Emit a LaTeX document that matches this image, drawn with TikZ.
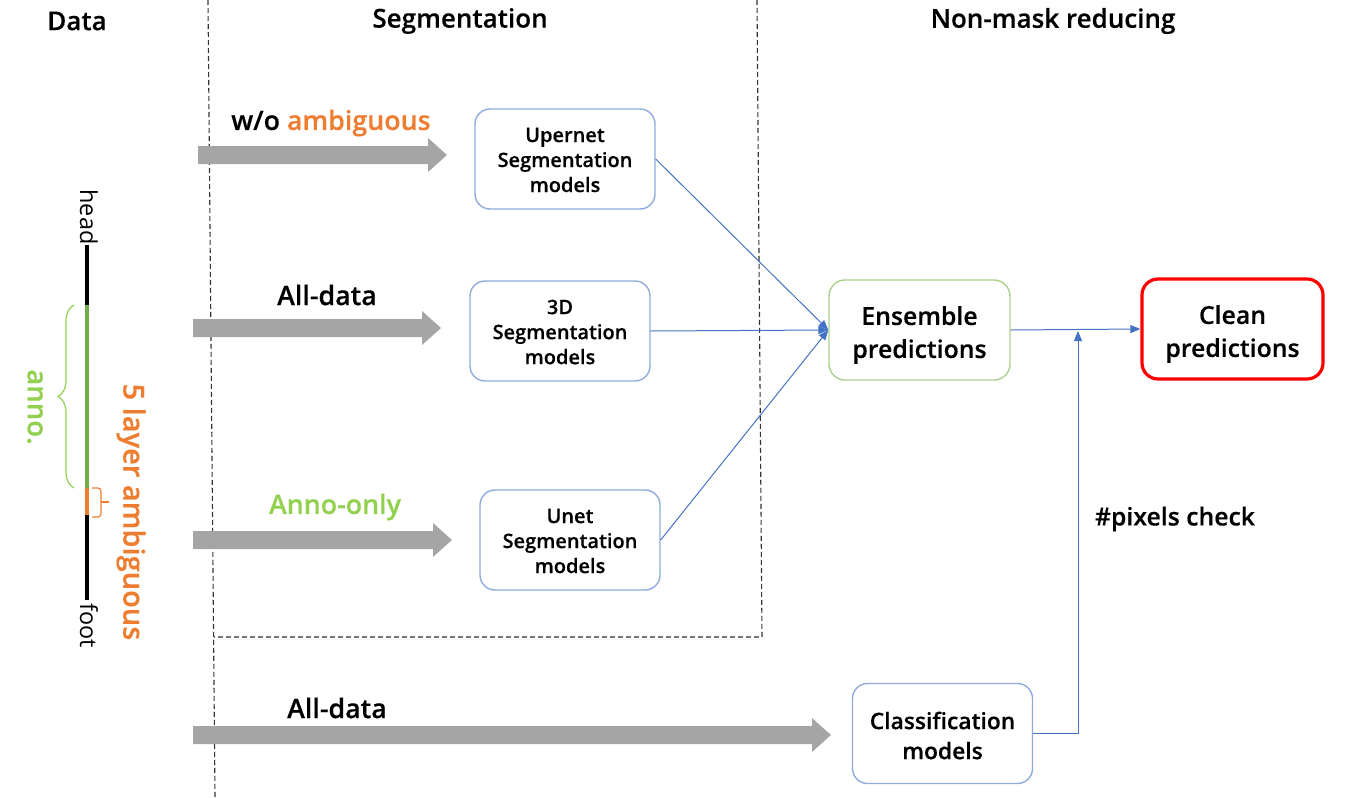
\documentclass[tikz,border=0pt]{standalone}
\usepackage{fontspec}
\setmainfont{Open Sans}
\newfontfamily\sbf{Open Sans Semibold}[FakeBold=0.35]
\usetikzlibrary{arrows.meta,decorations.pathreplacing}
\definecolor{ablue}{HTML}{4472C4}
\definecolor{bbord}{HTML}{8FAADC}
\definecolor{gbord}{HTML}{A9D18E}
\definecolor{agray}{HTML}{A5A5A5}
\definecolor{aorange}{HTML}{ED7D31}
\definecolor{lgreen}{HTML}{92D050}
\definecolor{dgreen}{HTML}{70AD47}
\tikzset{
  heading/.style={font=\sbf\fontsize{13}{15}\selectfont, text=black, yshift=-1.5pt},
  lbl/.style={font=\sbf\fontsize{13.4}{15}\selectfont, yshift=-1.5pt},
  modelbox/.style={draw=bbord, line width=0.7pt, rounded corners=7.5pt, minimum width=90pt, minimum height=50pt},
  boxtext/.style={align=center, font=\sbf\fontsize{10}{12.5}\selectfont},
  bigbox/.style={rounded corners=8pt, minimum width=90.5pt, minimum height=50pt},
  bigtext/.style={align=center, font=\sbf\fontsize{12.4}{16.5}\selectfont},
  conn/.style={draw=ablue, line width=0.5pt, -{Triangle[length=5pt,width=4pt]}},
  dashline/.style={draw=black!80, line width=0.55pt, dash pattern=on 2.5pt off 1.5pt},
  blockarrow/.style={fill=agray, draw=none},
}
\begin{document}
\begin{tikzpicture}[x=0.5pt,y=-0.5pt]
\useasboundingbox (0,0) rectangle (1355,798);
% headings
\node[heading] (hdata) at (77,18) {Data};
\node[heading] (hseg) at (460,18) {Segmentation};
\node[heading] (hnon) at (1053,18) {Non-mask reducing};
% dashed frame
\draw[dashline] (208,0) -- (215,798);
\draw[dashline] (757,0) -- (762,637) -- (214,637);
% data bar
\draw[black, line width=2pt] (87,245) -- (87,305);
\draw[dgreen, line width=2pt] (87,305) -- (87,488);
\draw[aorange, line width=2pt] (87,488) -- (87,515);
\draw[black, line width=2pt] (87,515) -- (87,600);
\node[rotate=-90, font=\fontsize{11.7}{14}\selectfont] (head) at (89,217) {head};
\node[rotate=-90, font=\fontsize{11.7}{14}\selectfont] (foot) at (89,626) {foot};
\draw[lgreen, line width=0.6pt, decorate, decoration={brace, amplitude=8pt, aspect=0.5}] (74,488) -- (74,305);
\draw[aorange, line width=0.6pt, rounded corners=1.5pt] (92,488) -- (101,488) -- (101,517) -- (92,517);
\draw[aorange, line width=0.6pt] (101,502) -- (109,502);
\node[rotate=-90, text=lgreen, font=\sbf\fontsize{13.8}{16}\selectfont] (anno) at (35,407) {anno.};
\node[rotate=-90, text=aorange, font=\sbf\fontsize{14.5}{16}\selectfont] (amb) at (131,512) {5 layer ambiguous};
% block arrows
\fill[blockarrow] (198,146) -- (428,146) -- (428,138) -- (447,155) -- (428,172) -- (428,164) -- (198,164) -- cycle;
\fill[blockarrow] (193,319) -- (422,319) -- (422,311) -- (441,328) -- (422,345) -- (422,337) -- (193,337) -- cycle;
\fill[blockarrow] (193,531) -- (433,531) -- (433,523) -- (452,540) -- (433,557) -- (433,549) -- (193,549) -- cycle;
\fill[blockarrow] (193,726) -- (812,726) -- (812,718) -- (831,735) -- (812,752) -- (812,744) -- (193,744) -- cycle;
\node[lbl] (l1) at (331,120) {w/o \textcolor{aorange}{ambiguous}};
\node[lbl] (l2) at (327,292) {All-data};
\node[lbl, text=lgreen] (l3) at (335,504) {Anno-only};
\node[lbl] (l4) at (337,705) {All-data};
% model boxes
\node[modelbox] (up) at (565,159) {};
\node[boxtext] (upt) at ([yshift=-0.5pt]up.center) {Upernet\\Segmentation\\models};
\node[modelbox] (td) at (560,331) {};
\node[boxtext] (tdt) at ([yshift=-0.5pt]td.center) {3D\\Segmentation\\models};
\node[modelbox] (un) at (570,540) {};
\node[boxtext] (unt) at ([yshift=-0.5pt]un.center) {Unet\\Segmentation\\models};
\node[bigbox, draw=gbord, line width=0.7pt] (ens) at (919.5,330) {};
\node[bigtext] (enst) at ([yshift=-2.5pt]ens.center) {Ensemble\\predictions};
\node[bigbox, draw=red, line width=1.6pt] (clean) at (1232.5,329) {};
\node[bigtext] (cleant) at ([yshift=-2.5pt]clean.center) {Clean\\predictions};
\node[modelbox] (cls) at (942.5,733.5) {};
\node[boxtext, font=\sbf\fontsize{11.4}{15}\selectfont] (clst) at ([yshift=-1pt]cls.center) {Classification\\models};
\node[lbl, font=\sbf\fontsize{12.4}{15}\selectfont] (pix) at (1175,516) {\#pixels check};
% connectors
\draw[conn] (up.east) -- (ens.west);
\draw[conn] (td.east) -- (ens.west);
\draw[conn] (un.east) -- (ens.west);
\draw[conn] (ens.east) -- (clean.west);
\coordinate (j) at (1078,331);
\draw[conn] (cls.east) -| (j);
\end{tikzpicture}
\end{document}
